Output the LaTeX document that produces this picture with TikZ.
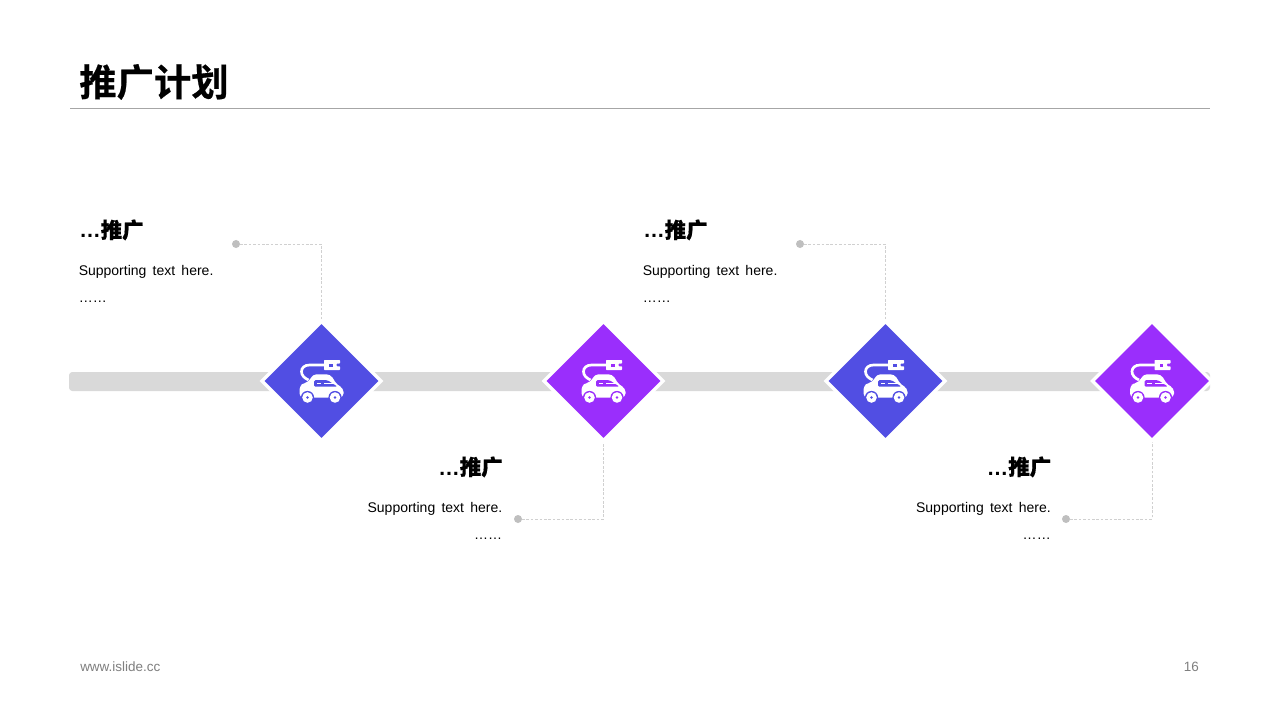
\documentclass[tikz,border=0pt]{standalone}
\usepackage{fontspec}
\setmainfont{Liberation Sans}[WordSpace={1.6,1,1}]
\newfontfamily\cjk{Noto Sans CJK SC Bold}[FakeBold=0.5]
\usetikzlibrary{shapes.geometric}
\definecolor{barcol}{HTML}{D9D9D9}
\definecolor{rulecol}{HTML}{A6A6A6}
\definecolor{dotcol}{HTML}{BFBFBF}
\definecolor{linkcol}{HTML}{D0D0D0}
\definecolor{blueish}{HTML}{514EE3}
\definecolor{purpleish}{HTML}{9A2EFC}
\definecolor{footcol}{HTML}{7F7F7F}
\tikzset{
  x=.75pt,y=-.75pt,
  dia/.style={diamond,aspect=1,draw=white,line width=2.6pt,inner sep=0pt,outer sep=0pt,minimum width=89.25pt,minimum height=89.25pt},
  dotn/.style={circle,fill=dotcol,inner sep=0pt,minimum size=6pt,outer sep=0pt},
  link/.style={draw=linkcol,line width=.6pt,dash pattern=on 2pt off 1.3pt},
  head/.style={inner sep=0pt,font=\fontsize{16.1}{16.1}\selectfont\bfseries},
  body/.style={inner sep=0pt,font=\fontsize{10.5}{10.5}\selectfont},
  foot/.style={inner sep=0pt,text=footcol,font=\fontsize{10.1}{10.1}\selectfont},
  caricon/.pic={
    % cable
    \draw[white,line width=2pt,fill=none] (4,-16) -- (-12,-16) .. controls (-17,-16) and (-20,-13) .. (-20,-9.5) .. controls (-20,-6) and (-17.5,-3) .. (-13,-1);
    % plug
    \fill[white,rounded corners=.5pt] (2.5,-21) -- (18.5,-21) -- (18.5,-17.5) -- (15,-17.5) -- (15,-14.7) -- (18.5,-14.7) -- (18.5,-11) -- (2.5,-11) -- cycle;
    \fill[icoback] (7.5,-17.5) rectangle (11,-14.5);
    % car body
    \fill[white,rounded corners=3pt] (-22,16.5) -- (-22,4.5) -- (-17,2) -- (-12.5,1) -- (-9,-6.7) -- (9,-6.7) -- (15.5,4) -- (22,7) -- (22,16.5) -- cycle;
    % window
    \fill[icoback,rounded corners=1pt] (-7.5,5.7) -- (-7.5,-.8) -- (6,-.8) -- (16,5.7) -- cycle;
    \fill[white] (-5,1.7) rectangle (-.5,3.3);
    \fill[white] (2.5,1.7) rectangle (12.5,3.3);
    % wheels
    \foreach \wx in {-14,13.5}{
      \fill[icoback] (\wx,16.5) circle[radius=6.6];
      \fill[white] (\wx,16.5) circle[radius=5.3];
      \fill[icoback] (\wx,16.5) circle[radius=1.4];
    }
  }
}
\begin{document}
\begin{tikzpicture}
\useasboundingbox[fill=white] (0,0) rectangle (1280,720);
% title and rule
\node[inner sep=0pt,anchor=base west,font=\fontsize{28}{28}\selectfont\cjk] (title) at (79,96) {推广计划};
\coordinate (ruleL) at (70,108.5);
\coordinate (ruleR) at (1210,108.5);
\draw[rulecol,line width=.75pt] (ruleL) -- (ruleR);
% bar
\fill[barcol,rounded corners=2.5pt] (69,372) rectangle (1210,391);
% dots
\node[dotn] (dotA) at (236,244) {};
\node[dotn] (dotB) at (518,519) {};
\node[dotn] (dotC) at (800,244) {};
\node[dotn] (dotD) at (1066,519) {};
% anchors for diamonds
\coordinate (cA) at (321.5,381);
\coordinate (cB) at (603.5,381);
\coordinate (cC) at (885.5,381);
\coordinate (cD) at (1152,381);
% connectors
\draw[link] (dotA) -| (cA);
\draw[link] (dotB) -| (cB);
\draw[link] (dotC) -| (cC);
\draw[link] (dotD) -| (cD);
% diamonds and icons
\node[dia,fill=blueish] (diaA) at (cA) {};
\node[dia,fill=purpleish] (diaB) at (cB) {};
\node[dia,fill=blueish] (diaC) at (cC) {};
\node[dia,fill=purpleish] (diaD) at (cD) {};
\colorlet{icoback}{blueish}
\pic at (cA) {caricon};
\pic at (cC) {caricon};
\colorlet{icoback}{purpleish}
\pic at (cB) {caricon};
\pic at (cD) {caricon};
% texts
\node[head,anchor=base west] (hA) at (79,238) {…{\cjk 推广}};
\node[body,anchor=base west] (sA) at (78.5,275) {Supporting text here.};
\node[body,anchor=base west] (eA) at (78.5,302) {……};
\node[head,anchor=base west] (hC) at (643,238) {…{\cjk 推广}};
\node[body,anchor=base west] (sC) at (642.5,275) {Supporting text here.};
\node[body,anchor=base west] (eC) at (642.5,302) {……};
\node[head,anchor=base east] (hB) at (503,475) {…{\cjk 推广}};
\node[body,anchor=base east] (sB) at (502.5,512) {Supporting text here.};
\node[body,anchor=base east] (eB) at (502.5,539) {……};
\node[head,anchor=base east] (hD) at (1051.5,475) {…{\cjk 推广}};
\node[body,anchor=base east] (sD) at (1051,512) {Supporting text here.};
\node[body,anchor=base east] (eD) at (1051,539) {……};
% footer
\node[foot,anchor=base west] (web) at (80,671) {www.islide.cc};
\node[foot,anchor=base east] (pg) at (1199,671) {16};
\end{tikzpicture}
\end{document}
